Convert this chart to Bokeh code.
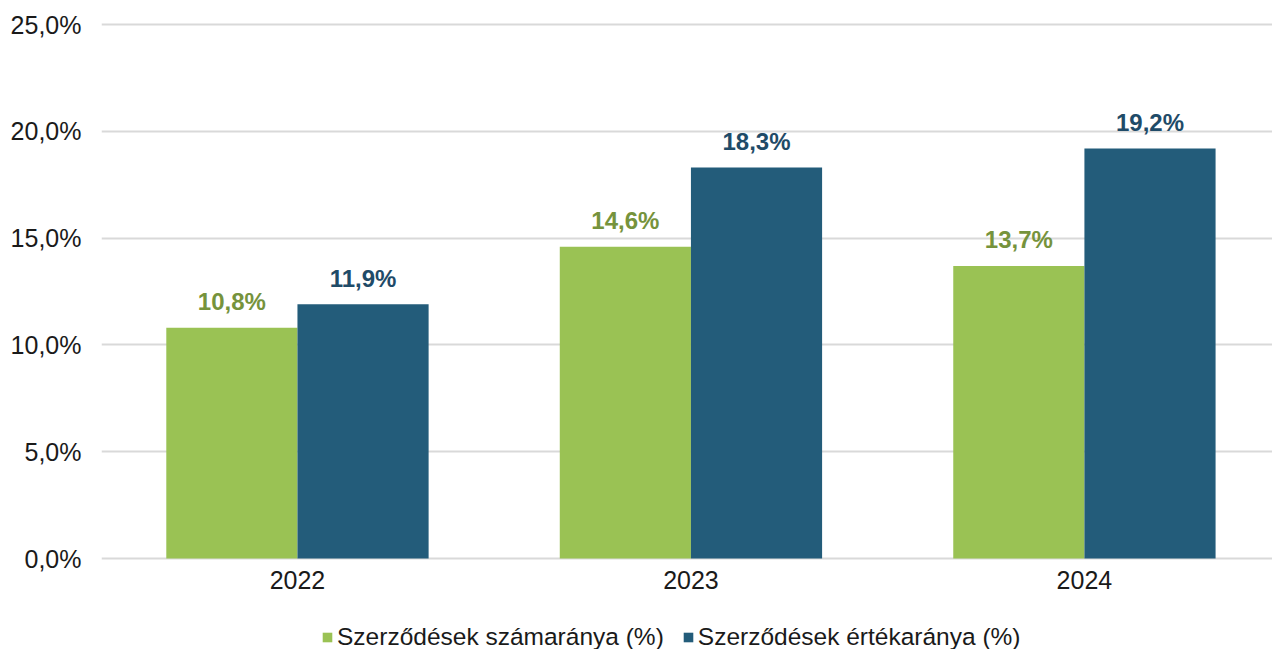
from bokeh.plotting import figure
from bokeh.models import Legend, LegendItem, ColumnDataSource, Range1d, FixedTicker
from bokeh.embed import file_html
from bokeh.resources import INLINE
from bokeh.core.properties import value

years = ["2022", "2023", "2024"]
count_share = [10.8, 14.6, 13.7]
value_share = [11.9, 18.3, 19.2]
count_labels = ["10,8%", "14,6%", "13,7%"]
value_labels = ["11,9%", "18,3%", "19,2%"]
series_names = ["Szerződések számaránya (%)", "Szerződések értékaránya (%)"]
y_ticks = [0, 5, 10, 15, 20, 25]
y_tick_labels = ["0,0%", "5,0%", "10,0%", "15,0%", "20,0%", "25,0%"]

GREEN = "#9AC254"
BLUE = "#235C7A"
GREEN_TXT = "#76933C"
BLUE_TXT = "#1F4B68"
FONT = "Liberation Sans"

idx = list(range(len(years)))
bar_w = 1 / 3
src = ColumnDataSource(dict(
    x1=[i - bar_w / 2 for i in idx],
    x2=[i + bar_w / 2 for i in idx],
    c=count_share, v=value_share,
    cl=count_labels, vl=value_labels,
))

p = figure(width=1272, height=649, x_range=Range1d(-0.498, 2.478), y_range=Range1d(-4.26, 25.094),
           output_backend="svg", toolbar_location=None,
           min_border_left=101, min_border_right=0, min_border_top=22, min_border_bottom=0)
p.outline_line_color = None
p.background_fill_color = "white"
p.border_fill_color = "white"

r1 = p.vbar(x="x1", top="c", width=bar_w, source=src, fill_color=GREEN, line_color=None)
r2 = p.vbar(x="x2", top="v", width=bar_w, source=src, fill_color=BLUE, line_color=None)

p.text(x="x1", y="c", text="cl", source=src, text_align="center", text_baseline="alphabetic",
       y_offset=-26, text_font=value(FONT), text_font_style="bold", text_font_size="24px",
       text_color=GREEN_TXT)
p.text(x="x2", y="v", text="vl", source=src, text_align="center", text_baseline="alphabetic",
       y_offset=-26, text_font=value(FONT), text_font_style="bold", text_font_size="24px",
       text_color=BLUE_TXT)

p.xgrid.visible = False
p.ygrid.grid_line_color = "#D9D9D9"
p.ygrid.grid_line_width = 2
p.yaxis.ticker = FixedTicker(ticks=y_ticks)
p.yaxis.major_label_overrides = {t: l for t, l in zip(y_ticks, y_tick_labels)}
p.xaxis.ticker = FixedTicker(ticks=idx)
p.xaxis.major_label_overrides = {i: y for i, y in zip(idx, years)}
p.xaxis.fixed_location = 0

for ax in (p.xaxis[0], p.yaxis[0]):
    ax.axis_line_color = None
    ax.major_tick_line_color = None
    ax.minor_tick_line_color = None
    ax.major_tick_out = 0
    ax.major_tick_in = 0
    ax.minor_tick_out = 0
    ax.major_label_text_font = FONT
    ax.major_label_text_font_size = "25px"
    ax.major_label_text_color = "#1a1a1a"
p.yaxis.major_label_standoff = 20
p.xaxis.major_label_standoff = 12

legend = Legend(items=[LegendItem(label=series_names[0], renderers=[r1]),
                       LegendItem(label=series_names[1], renderers=[r2])],
                orientation="horizontal", location=(220, -2),
                border_line_color=None, background_fill_alpha=0,
                glyph_width=12, glyph_height=12, label_standoff=4, spacing=18,
                padding=0, margin=0, label_height=24,
                label_text_font=FONT, label_text_font_size="24.5px", label_text_color="#1a1a1a")
p.add_layout(legend, "center")

open("out.html", "w").write(file_html(p, INLINE))
